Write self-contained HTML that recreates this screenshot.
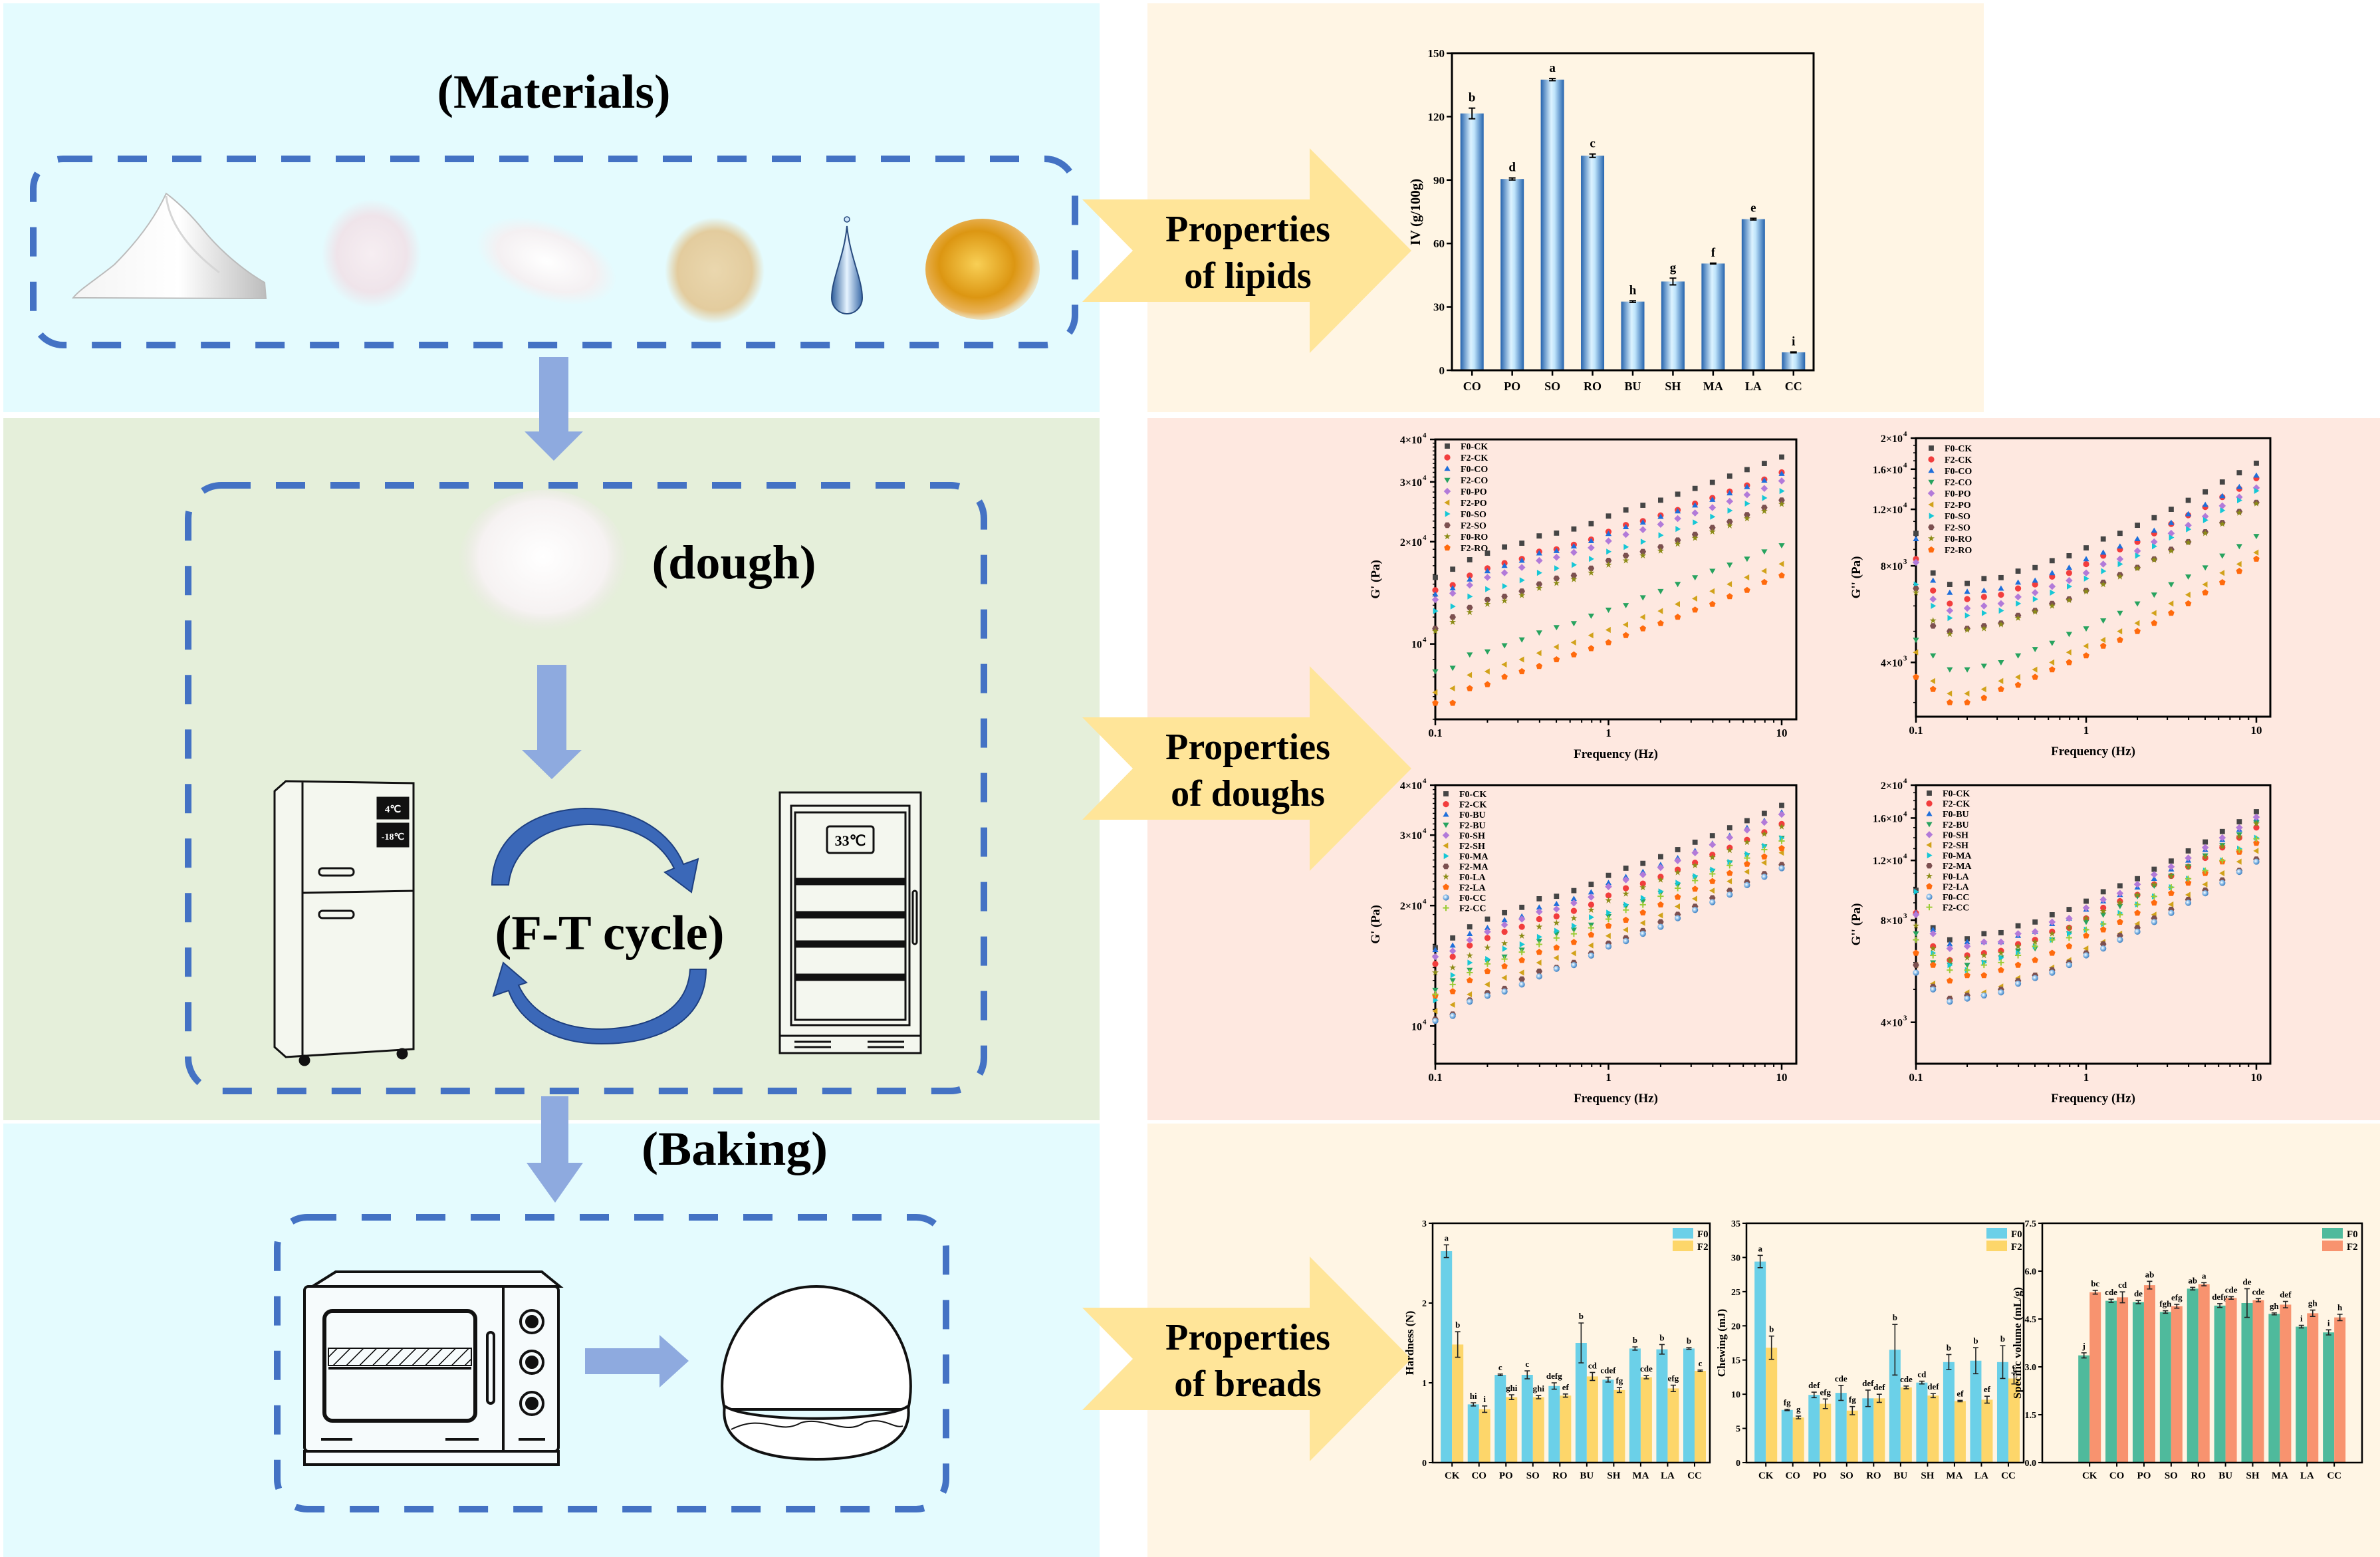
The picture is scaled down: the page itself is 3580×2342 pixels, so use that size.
<!DOCTYPE html>
<html><head><meta charset="utf-8"><title>Lipids, doughs and breads graphical abstract</title>
<style>
html,body{margin:0;padding:0;background:#fff;}
svg{display:block;}
text{font-family:"Liberation Serif",serif;font-weight:bold;fill:#000;}
</style></head>
<body>
<svg id="root" xmlns="http://www.w3.org/2000/svg" width="3580" height="2342" viewBox="0 0 3580 2342">
<defs>
<linearGradient id="ivGrad" x1="0" x2="1" y1="0" y2="0">
<stop offset="0" stop-color="#2563ad"/><stop offset="0.45" stop-color="#dcf3ff"/><stop offset="0.6" stop-color="#bfe4fb"/><stop offset="1" stop-color="#2563ad"/>
</linearGradient>
<radialGradient id="sphereGrad" cx="0.4" cy="0.4" r="0.6"><stop offset="0" stop-color="#ffffff"/><stop offset="0.5" stop-color="#8fc0ea"/><stop offset="1" stop-color="#3f7fc0"/></radialGradient>
<radialGradient id="oilGrad" cx="0.45" cy="0.45" r="0.6"><stop offset="0" stop-color="#f8cf55"/><stop offset="0.55" stop-color="#dc9612"/><stop offset="0.8" stop-color="#e9b35a"/><stop offset="1" stop-color="#f3e3c0" stop-opacity="0.3"/></radialGradient>
<radialGradient id="blobWhite" cx="0.5" cy="0.5" r="0.5"><stop offset="0" stop-color="#ffffff"/><stop offset="0.7" stop-color="#f4f0f2"/><stop offset="1" stop-color="#f4f0f2" stop-opacity="0"/></radialGradient>
<radialGradient id="blobPink" cx="0.5" cy="0.5" r="0.5"><stop offset="0" stop-color="#f6eef2"/><stop offset="0.7" stop-color="#efe4ea"/><stop offset="1" stop-color="#efe2e8" stop-opacity="0"/></radialGradient>
<radialGradient id="blobYeast" cx="0.5" cy="0.5" r="0.5"><stop offset="0" stop-color="#ead7ae"/><stop offset="0.75" stop-color="#e3cc9e"/><stop offset="1" stop-color="#e3cc9e" stop-opacity="0"/></radialGradient>
<radialGradient id="blobDough" cx="0.5" cy="0.45" r="0.5"><stop offset="0" stop-color="#ffffff"/><stop offset="0.75" stop-color="#f6f2f2"/><stop offset="1" stop-color="#ece6e6" stop-opacity="0"/></radialGradient>
<linearGradient id="flourGrad" x1="0" x2="1"><stop offset="0" stop-color="#f4f4f4"/><stop offset="0.55" stop-color="#ffffff"/><stop offset="1" stop-color="#bdbdbd"/></linearGradient>
<linearGradient id="dropGrad" x1="0" x2="1"><stop offset="0" stop-color="#2f5f9c"/><stop offset="0.5" stop-color="#e6f4ff"/><stop offset="1" stop-color="#3a6aa8"/></linearGradient>
<pattern id="hatch" width="14" height="14" patternUnits="userSpaceOnUse" patternTransform="rotate(45)"><line x1="0" y1="0" x2="0" y2="14" stroke="#000" stroke-width="3"/></pattern>
</defs>

<rect x="5" y="5" width="1649" height="615" fill="#e4fbfe"/>
<rect x="5" y="629" width="1649" height="1056" fill="#e5efda"/>
<rect x="5" y="1690" width="1649" height="652" fill="#e4fbfe"/>
<rect x="1726" y="5" width="1258" height="615" fill="#fff5e4"/>
<rect x="1726" y="629" width="1854" height="1056" fill="#fee8e0"/>
<rect x="1726" y="1690" width="1854" height="652" fill="#fff5e4"/>

<text x="833" y="162" font-size="72" text-anchor="middle" textLength="351" lengthAdjust="spacingAndGlyphs">(Materials)</text>
<rect x="50" y="239" width="1567" height="280" rx="45" fill="none" stroke="#4472c4" stroke-width="10" stroke-dasharray="44 38"/>
<g>
<path d="M250,291 C232,330 205,365 172,398 C145,420 120,435 110,448 L400,449 L398,425 C372,410 335,382 305,345 C283,318 262,300 250,291 Z" fill="url(#flourGrad)" stroke="#bbbbbb" stroke-width="2"/>
<path d="M250,295 C255,340 290,380 330,410" fill="none" stroke="#d6d6d6" stroke-width="3"/>
</g>
<ellipse cx="559" cy="382" rx="75" ry="82" fill="url(#blobPink)"/>
<ellipse cx="822" cy="393" rx="110" ry="58" fill="url(#blobWhite)" transform="rotate(20 822 393)"/>
<ellipse cx="1075" cy="407" rx="75" ry="80" fill="url(#blobYeast)"/>
<path d="M1274,340 C1270,385 1251,420 1251,448 A23,24 0 0 0 1297,448 C1297,420 1278,385 1274,340 Z" fill="url(#dropGrad)" stroke="#274a7e" stroke-width="2"/>
<circle cx="1274" cy="330" r="4" fill="#cfe6fa" stroke="#274a7e" stroke-width="1.5"/>
<ellipse cx="1478" cy="405" rx="86" ry="76" fill="url(#oilGrad)"/>

<path d="M811,537 H855 V649 H877 L833,693 L789,649 H811 Z" fill="#8eaadf"/>
<rect x="283" y="730" width="1197" height="911" rx="50" fill="none" stroke="#4472c4" stroke-width="10" stroke-dasharray="44 38"/>
<ellipse cx="817" cy="849" rx="128" ry="112" fill="url(#blobDough)"/>
<text x="1104" y="870" font-size="72" text-anchor="middle" textLength="247" lengthAdjust="spacingAndGlyphs">(dough)</text>
<path d="M808,1000 H852 V1128 H875 L830,1172 L785,1128 H808 Z" fill="#8eaadf"/>

<g fill="#f4f7ef" stroke="#111" stroke-width="3">
<path d="M413,1190 L430,1175 L622,1178 L622,1578 L430,1590 L413,1575 Z"/>
<line x1="455" y1="1177" x2="455" y2="1588"/>
<line x1="455" y1="1343" x2="622" y2="1340"/>
<rect x="568" y="1200" width="46" height="31" fill="#111"/>
<rect x="568" y="1239" width="46" height="34" fill="#111"/>
<rect x="480" y="1306" width="52" height="11" rx="5"/>
<rect x="480" y="1370" width="52" height="11" rx="5"/>
<circle cx="458" cy="1595" r="7" fill="#111"/><circle cx="605" cy="1585" r="7" fill="#111"/>
</g>
<text x="591" y="1222" font-size="15" style="fill:#fff" text-anchor="middle">4℃</text>
<text x="591" y="1263" font-size="14" style="fill:#fff" text-anchor="middle">-18℃</text>

<g fill="#3b68b8" stroke="#1e3f80" stroke-width="2">
<path d="M740,1331 C740,1260 800,1218 880,1216 C960,1216 1010,1255 1028,1300 L1050,1292 L1040,1342 L1000,1312 L1014,1306 C995,1268 955,1240 885,1240 C815,1242 770,1280 765,1331 Z"/>
<path d="M1062,1458 C1062,1530 1000,1570 905,1570 C830,1570 780,1535 765,1490 L742,1498 L757,1448 L792,1478 L780,1482 C800,1525 845,1548 905,1548 C985,1546 1035,1515 1038,1458 Z"/>
</g>
<text x="917" y="1428" font-size="74" text-anchor="middle" textLength="345" lengthAdjust="spacingAndGlyphs">(F-T cycle)</text>

<g fill="#f4f7ef" stroke="#111" stroke-width="3">
<rect x="1173" y="1192" width="212" height="378"/>
<rect x="1190" y="1212" width="178" height="330"/>
<rect x="1196" y="1222" width="166" height="312" fill="none"/>
<rect x="1244" y="1243" width="70" height="40" rx="4"/>
<rect x="1198" y="1322" width="162" height="8" fill="#111"/>
<rect x="1198" y="1372" width="162" height="8" fill="#111"/>
<rect x="1198" y="1416" width="162" height="8" fill="#111"/>
<rect x="1198" y="1466" width="162" height="8" fill="#111"/>
<rect x="1373" y="1340" width="6" height="80" rx="3"/>
<rect x="1173" y="1558" width="212" height="26"/>
<line x1="1195" y1="1567" x2="1250" y2="1567"/><line x1="1195" y1="1575" x2="1250" y2="1575"/>
<line x1="1305" y1="1567" x2="1360" y2="1567"/><line x1="1305" y1="1575" x2="1360" y2="1575"/>
</g>
<text x="1279" y="1272" font-size="22" text-anchor="middle">33℃</text>

<path d="M814,1649 H855 V1749 H877 L835,1809 L792,1749 H814 Z" fill="#8eaadf"/>
<text x="1105" y="1752" font-size="72" text-anchor="middle" textLength="280" lengthAdjust="spacingAndGlyphs">(Baking)</text>
<rect x="417" y="1831" width="1006" height="439" rx="45" fill="none" stroke="#4472c4" stroke-width="10" stroke-dasharray="44 38"/>

<g fill="#f6fbfc" stroke="#111" stroke-width="4">
<path d="M470,1935 L505,1913 L815,1913 L842,1935 Z"/>
<rect x="458" y="1935" width="382" height="248" rx="6"/>
<rect x="458" y="2183" width="382" height="20"/>
<line x1="757" y1="1935" x2="757" y2="2183"/>
<rect x="488" y="1972" width="227" height="165" rx="12" fill="#f6fbfc" stroke-width="6"/>
<rect x="494" y="2028" width="215" height="26" fill="url(#hatch)" stroke-width="2"/>
<line x1="494" y1="2058" x2="709" y2="2058"/>
<rect x="733" y="2004" width="10" height="107" rx="5"/>
<circle cx="800" cy="1988" r="17"/><circle cx="800" cy="1988" r="8" fill="#111"/>
<circle cx="800" cy="2049" r="17"/><circle cx="800" cy="2049" r="8" fill="#111"/>
<circle cx="800" cy="2111" r="17"/><circle cx="800" cy="2111" r="8" fill="#111"/>
<line x1="483" y1="2165" x2="530" y2="2165"/><line x1="670" y1="2165" x2="720" y2="2165"/><line x1="780" y1="2165" x2="820" y2="2165"/>
</g>
<path d="M880,2028 H992 V2008 L1036,2047 L992,2087 V2067 H880 Z" fill="#8eaadf"/>
<g fill="#ffffff" stroke="#111" stroke-width="4">
<path d="M1090,2120 C1070,2030 1130,1935 1228,1935 C1326,1935 1386,2030 1366,2120 Z"/>
<path d="M1090,2115 C1082,2175 1150,2195 1228,2195 C1306,2195 1374,2175 1366,2115 C1330,2140 1126,2140 1090,2115 Z"/>
<path d="M1100,2150 C1150,2125 1170,2160 1205,2140 C1240,2130 1270,2160 1300,2140 C1330,2130 1345,2150 1358,2145" fill="none" stroke-width="2"/>
</g>

<polygon points="1628,300 1970,300 1970,223 2123,377 1970,531 1970,454 1628,454 1704,377" fill="#ffe599"/>
<text x="1877" y="363" font-size="56" text-anchor="middle">Properties</text>
<text x="1877" y="433" font-size="56" text-anchor="middle">of lipids</text>
<polygon points="1628,1079 1970,1079 1970,1002 2123,1156 1970,1310 1970,1233 1628,1233 1704,1156" fill="#ffe599"/>
<text x="1877" y="1142" font-size="56" text-anchor="middle">Properties</text>
<text x="1877" y="1212" font-size="56" text-anchor="middle">of doughs</text>
<polygon points="1628,1967 1970,1967 1970,1890 2123,2044 1970,2198 1970,2121 1628,2121 1704,2044" fill="#ffe599"/>
<text x="1877" y="2030" font-size="56" text-anchor="middle">Properties</text>
<text x="1877" y="2100" font-size="56" text-anchor="middle">of breads</text>

<g id="charts"></g>
</svg>

<script>
const ivCategories = ['CO','PO','SO','RO','BU','SH','MA','LA','CC'];
const ivValues = [121.5, 90.5, 137.5, 101.5, 32.5, 42, 50.5, 71.5, 8.5];
const ivErrors = [2.5, 0.5, 0.5, 0.8, 0.4, 1.6, 0.2, 0.4, 0.2];
const ivLetters = ['b','d','a','c','h','g','f','e','i'];
const ivTicks = [0, 30, 60, 90, 120, 150];

const freqHz = [0.1,0.126,0.158,0.2,0.251,0.316,0.398,0.501,0.631,0.794,1,1.26,1.58,2,2.51,3.16,3.98,5.01,6.31,7.94,10];
const xMajorTicks = [0.1, 1, 10];
const xMinorTicks = [0.2,0.3,0.4,0.5,0.6,0.7,0.8,0.9,2,3,4,5,6,7,8,9];

const rheoTopNames = ['F0-CK','F2-CK','F0-CO','F2-CO','F0-PO','F2-PO','F0-SO','F2-SO','F0-RO','F2-RO'];
const gPrimeTop = [
 [15.7,16.6,17.7,18.5,19.3,19.8,20.8,21.2,21.8,22.6,23.8,24.8,25.6,26.5,27.6,28.7,29.9,31.2,32.6,34.0,35.5],
 [14.4,14.9,15.9,16.7,17.3,17.8,18.7,19.0,19.6,20.3,21.4,22.4,23.0,23.9,24.8,25.9,26.9,28.1,29.3,30.5,32.0],
 [14.0,14.6,15.5,16.4,17.0,17.6,18.5,18.8,19.4,20.1,21.1,22.1,22.8,23.7,24.6,25.6,26.6,27.8,29.0,30.3,31.7],
 [8.3,8.5,9.3,9.5,9.9,10.3,10.8,11.2,11.5,12.1,12.6,13.0,13.7,14.3,15.0,15.7,16.4,17.1,17.8,18.7,19.5],
 [13.5,14.1,14.9,15.7,16.2,16.8,17.6,18.0,18.6,19.2,20.1,21.0,21.7,22.5,23.4,24.3,25.2,26.3,27.5,28.7,30.2],
 [7.2,7.4,8.1,8.3,8.7,9.0,9.4,9.8,10.1,10.6,11.0,11.4,12.0,12.5,13.1,13.6,14.3,15.0,15.7,16.4,17.2],
 [12.5,12.9,13.8,14.5,14.8,15.4,16.2,16.7,17.1,17.8,18.7,19.3,20.0,20.9,21.8,22.8,23.7,24.7,25.9,26.9,28.2],
 [11.1,12.0,12.8,13.5,13.8,14.3,15.0,15.6,15.9,16.7,17.6,18.2,18.7,19.3,20.2,21.0,22.0,22.9,24.0,25.2,26.5],
 [10.9,11.6,12.4,13.1,13.4,13.9,14.6,15.1,15.5,16.2,17.1,17.6,18.2,18.8,19.7,20.5,21.4,22.3,23.4,24.6,25.8],
 [6.7,6.7,7.4,7.6,8.0,8.3,8.6,9.0,9.3,9.7,10.1,10.6,11.1,11.5,12.0,12.6,13.1,13.8,14.4,15.2,15.9]
];
const gDoubleTop = [
 [10.1,7.6,7.0,7.05,7.3,7.35,7.7,7.9,8.3,8.6,9.1,9.7,10.1,10.7,11.3,12.0,12.8,13.6,14.6,15.6,16.7],
 [8.4,6.7,6.1,6.3,6.4,6.5,6.8,7.0,7.4,7.6,8.1,8.6,9.0,9.5,10.1,10.8,11.5,12.2,13.1,13.9,15.0],
 [9.7,7.2,6.6,6.65,6.7,6.8,7.1,7.2,7.6,7.9,8.4,8.8,9.2,9.7,10.3,10.9,11.6,12.4,13.2,14.1,15.3],
 [4.7,4.2,3.8,3.8,3.9,4.0,4.2,4.4,4.6,4.9,5.1,5.4,5.7,6.1,6.5,7.0,7.4,7.9,8.6,9.2,9.9],
 [8.2,6.3,5.8,5.9,6.0,6.1,6.4,6.6,6.9,7.2,7.6,8.1,8.4,8.9,9.5,10.1,10.7,11.4,12.3,13.1,14.0],
 [4.3,3.5,3.2,3.2,3.3,3.5,3.6,3.8,4.0,4.3,4.5,4.7,5.0,5.3,5.7,6.1,6.5,7.0,7.6,8.1,8.8],
 [7.0,6.0,5.5,5.6,5.7,5.8,6.1,6.3,6.6,6.9,7.3,7.7,8.1,8.6,9.2,9.8,10.4,11.1,11.9,12.8,13.7],
 [6.8,5.2,5.0,5.1,5.2,5.3,5.6,5.8,6.1,6.3,6.7,7.1,7.5,7.9,8.4,9.0,9.5,10.2,10.9,11.8,12.6],
 [6.6,5.4,4.9,5.05,5.1,5.25,5.5,5.75,6.0,6.25,6.65,7.0,7.4,7.85,8.35,8.9,9.45,10.1,10.8,11.7,12.5],
 [3.6,3.3,3.0,3.0,3.1,3.3,3.4,3.6,3.8,4.0,4.2,4.5,4.7,5.0,5.3,5.7,6.1,6.6,7.1,7.7,8.4]
];
const rheoBottomNames = ['F0-CK','F2-CK','F0-BU','F2-BU','F0-SH','F2-SH','F0-MA','F2-MA','F0-LA','F2-LA','F0-CC','F2-CC'];
const gPrimeBottom = [
 [15.7,16.6,17.7,18.5,19.2,19.8,20.8,21.1,21.8,22.6,23.8,24.8,25.5,26.5,27.6,28.8,29.9,31.3,32.6,34.0,35.6],
 [14.3,14.9,15.9,16.6,17.2,17.7,18.5,18.8,19.4,20.1,21.2,22.1,22.7,23.6,24.6,25.6,26.8,27.9,29.2,30.5,32.0],
 [15.5,15.9,17.0,17.6,18.4,18.8,19.8,20.2,20.8,21.6,22.8,23.6,24.3,25.3,26.3,27.4,28.6,29.9,31.3,32.6,34.2],
 [12.3,13.0,13.8,14.5,14.9,15.5,16.3,17.0,17.4,17.9,18.8,19.9,20.5,21.5,22.5,23.5,24.4,25.6,26.7,28.1,29.5],
 [14.9,15.4,16.4,17.2,17.9,18.5,19.3,19.6,20.3,21.0,22.3,23.2,23.9,24.9,25.9,27.1,28.4,29.6,30.9,32.3,33.8],
 [10.9,11.3,12.0,12.7,13.2,13.6,14.4,14.8,15.2,15.9,16.8,17.4,18.1,18.9,19.9,20.8,21.8,23.0,24.3,25.6,27.1],
 [11.6,13.4,14.4,14.7,15.6,16.0,16.7,17.3,17.8,18.7,19.2,20.1,20.9,21.7,22.8,23.7,24.6,25.7,26.9,28.2,29.5],
 [10.4,10.7,11.6,12.1,12.4,13.1,13.7,14.0,14.4,15.2,16.1,16.6,17.3,18.2,19.0,19.9,20.9,21.8,22.9,24.0,25.3],
 [13.6,14.0,15.0,15.7,16.1,16.8,17.7,18.1,18.6,19.5,20.6,21.4,22.2,23.2,24.2,25.2,26.4,27.5,28.8,30.2,31.5],
 [11.9,12.2,13.0,13.7,14.1,14.6,15.3,15.7,16.2,16.9,17.8,18.4,19.2,20.1,21.0,22.0,23.0,24.1,25.4,26.5,27.8],
 [10.3,10.6,11.5,11.9,12.2,12.7,13.3,13.9,14.2,15.0,15.8,16.3,17.0,17.7,18.6,19.5,20.4,21.3,22.5,23.6,24.8],
 [12.0,12.7,13.6,14.3,14.7,15.3,16.0,16.6,17.0,17.6,18.5,19.5,20.1,21.1,22.1,23.1,24.0,25.2,26.3,27.6,29.0]
];
const gDoubleBottom = [
 [9.8,7.6,7.0,7.05,7.3,7.35,7.7,7.9,8.3,8.6,9.1,9.7,10.1,10.6,11.3,11.95,12.8,13.6,14.6,15.6,16.7],
 [8.4,6.7,6.1,6.3,6.4,6.5,6.8,7.0,7.4,7.6,8.1,8.7,9.1,9.5,10.2,10.8,11.5,12.2,13.1,14.0,15.0],
 [8.4,7.5,6.8,6.9,6.9,6.9,7.2,7.4,7.8,8.1,8.6,9.1,9.5,10.0,10.6,11.3,12.0,12.9,13.8,14.8,15.9],
 [7.3,6.0,5.9,5.9,6.0,6.2,6.5,6.6,7.0,7.3,7.9,8.3,8.8,9.4,10.1,10.8,11.5,12.4,13.3,14.3,15.5],
 [8.3,7.3,6.6,6.7,6.9,6.9,7.3,7.4,7.9,8.1,8.7,9.2,9.6,10.2,10.9,11.5,12.2,13.1,14.0,15.0,16.1],
 [5.9,5.2,4.7,4.9,4.9,5.1,5.4,5.5,5.8,6.1,6.6,6.9,7.3,7.8,8.3,8.9,9.5,10.2,11.0,11.9,12.8],
 [9.7,6.4,5.9,5.7,6.0,6.2,6.4,6.7,7.0,7.3,7.5,7.8,8.4,8.9,9.4,10.0,10.6,11.2,12.0,13.0,14.0],
 [5.9,5.1,4.7,4.8,4.8,5.0,5.3,5.5,5.7,6.0,6.4,6.8,7.2,7.6,8.1,8.6,9.2,9.8,10.5,11.2,12.1],
 [7.7,6.6,6.1,6.2,6.3,6.4,6.7,6.9,7.3,7.6,8.1,8.5,9.0,9.5,10.2,10.8,11.5,12.3,13.2,14.1,15.4],
 [6.4,5.9,5.3,5.5,5.5,5.7,5.9,6.1,6.4,6.7,7.2,7.5,7.9,8.4,9.0,9.6,10.3,11.0,11.9,12.7,13.5],
 [5.6,5.0,4.6,4.7,4.8,4.9,5.2,5.4,5.6,5.9,6.3,6.6,7.0,7.4,7.9,8.4,9.0,9.6,10.3,11.1,11.9],
 [7.0,6.3,5.7,5.7,5.9,6.0,6.3,6.7,7.0,7.1,7.5,7.8,8.3,8.9,9.4,10.0,10.6,11.2,12.0,12.9,13.9]
];
const gPrimeTickValues = [40, 30, 20, 10];
const gPrimeTickMant = ['4×10','3×10','2×10','10'];
const gPrimeTickExp = ['4','4','4','4'];
const gDoubleTickValues = [20, 16, 12, 8, 4];
const gDoubleTickMant = ['2×10','1.6×10','1.2×10','8×10','4×10'];
const gDoubleTickExp = ['4','4','4','3','3'];

const breadCategories = ['CK','CO','PO','SO','RO','BU','SH','MA','LA','CC'];
const hardnessF0 = [2.65,0.73,1.10,1.10,0.96,1.50,1.04,1.43,1.42,1.43];
const hardnessF2 = [1.48,0.67,0.82,0.82,0.84,1.08,0.91,1.07,0.93,1.15];
const hardnessErrF0 = [0.08,0.02,0.01,0.05,0.04,0.25,0.03,0.02,0.06,0.01];
const hardnessErrF2 = [0.16,0.04,0.03,0.02,0.02,0.05,0.03,0.02,0.04,0.01];
const hardnessLetF0 = ['a','hi','c','c','defg','b','cdef','b','b','b'];
const hardnessLetF2 = ['b','i','ghi','ghi','ef','cd','fg','cde','efg','c'];
const hardnessTicks = [0,1,2,3];
const chewingF0 = [29.4,7.7,9.9,10.2,9.4,16.5,11.7,14.7,14.9,14.7];
const chewingF2 = [16.8,6.6,8.6,7.6,9.4,11.0,9.8,9.0,9.2,12.3];
const chewingErrF0 = [0.9,0.1,0.4,1.1,1.2,3.7,0.2,1.1,1.9,2.4];
const chewingErrF2 = [1.7,0.2,0.7,0.6,0.6,0.2,0.3,0.1,0.5,0.8];
const chewingLetF0 = ['a','fg','def','cde','def','b','cd','b','b','b'];
const chewingLetF2 = ['b','g','efg','fg','def','cde','def','ef','ef','c'];
const chewingTicks = [0,5,10,15,20,25,30,35];
const volumeF0 = [3.36,5.07,5.03,4.72,5.45,4.92,5.0,4.66,4.26,4.08];
const volumeF2 = [5.34,5.18,5.56,4.90,5.59,5.16,5.09,4.95,4.68,4.55];
const volumeErrF0 = [0.08,0.05,0.05,0.04,0.04,0.06,0.45,0.03,0.04,0.08];
const volumeErrF2 = [0.06,0.17,0.12,0.06,0.05,0.04,0.05,0.10,0.10,0.10];
const volumeLetF0 = ['j','cde','de','fgh','ab','defg','de','gh','i','i'];
const volumeLetF2 = ['bc','cd','ab','efg','a','cde','cde','def','gh','h'];
const volumeTicks = [0,1.5,3.0,4.5,6.0,7.5];

const NS = 'http://www.w3.org/2000/svg';
const layer = document.getElementById('charts');
function mk(tag, attrs, parent) {
  const e = document.createElementNS(NS, tag);
  for (const k in attrs) e.setAttribute(k, attrs[k]);
  (parent || layer).appendChild(e);
  return e;
}
function txt(parent, x, y, s, size, anchor) {
  const t = mk('text', {x: x, y: y, 'font-size': size, 'text-anchor': anchor || 'middle'}, parent);
  t.textContent = s;
  return t;
}

(function () {
  const L = 2184, R = 2728, T = 80, B = 557;
  const g = mk('g', {});
  
  
  const band = (R - L) / ivCategories.length;
  const xC = i => L + band * (i + 0.5);
  const yV = v => B - v / 150 * (B - T);
  ivCategories.forEach((c, i) => {
    const bw = 35;
    const bar = mk('rect', {x: xC(i) - bw / 2, y: yV(ivValues[i]), width: bw, height: B - yV(ivValues[i]), fill: 'url(#ivGrad)'}, g);
    
    
    const e1 = yV(ivValues[i] + ivErrors[i]), e2 = yV(ivValues[i] - ivErrors[i]);
    const eb = mk('path', {d: `M${xC(i)},${e1}V${e2}M${xC(i)-5},${e1}H${xC(i)+5}M${xC(i)-5},${e2}H${xC(i)+5}`, stroke: '#000', 'stroke-width': 2, fill: 'none'}, g);
    
    
    const lt = txt(g, xC(i), e1 - 10, ivLetters[i], 19);
    
    
    const tk = mk('line', {x1: xC(i), x2: xC(i), y1: B, y2: B + 8, stroke: '#000', 'stroke-width': 2.5}, g);
    
    
    const xl = txt(g, xC(i), B + 30, c, 18);
    
    
  });
  const frame = mk('path', {d: `M${L},${T}H${R}V${B}H${L}Z`, fill: 'none', stroke: '#000', 'stroke-width': 3}, g);
  
  
  ivTicks.forEach(v => {
    const tk = mk('line', {x1: L - 8, x2: L, y1: yV(v), y2: yV(v), stroke: '#000', 'stroke-width': 2.5}, g);
    
    
    const tl = txt(g, L - 11, yV(v) + 6, String(v), 17, 'end');
    
    
  });
  const yt = txt(g, 0, 0, 'IV (g/100g)', 21);
  yt.setAttribute('transform', 'translate(2136,319) rotate(-90)');
  
  
})();

const markerShapes = ['square','circle','triUp','triDown','diamond','triLeft','triRight','hexagon','star','pentagon','sphere','plus'];
const markerColors = ['#454545','#f23d3d','#1e6fdb','#27a35f','#b27ad9','#d1a21a','#16c7d6','#7c5050','#8c8c16','#ff6a0d','#5a9ad8','#9ccc36'];
function poly(cx, cy, r, n, rot) {
  const p = [];
  for (let k = 0; k < n; k++) { const a = rot + k * 2 * Math.PI / n; p.push((cx + r * Math.cos(a)).toFixed(1) + ',' + (cy + r * Math.sin(a)).toFixed(1)); }
  return p.join(' ');
}
function marker(parent, shape, x, y, s, color) {
  let e;
  if (shape === 'square') e = mk('rect', {x: x - s * 0.85, y: y - s * 0.85, width: s * 1.7, height: s * 1.7, fill: color}, parent);
  else if (shape === 'circle') e = mk('circle', {cx: x, cy: y, r: s, fill: color}, parent);
  else if (shape === 'sphere') e = mk('circle', {cx: x, cy: y, r: s, fill: 'url(#sphereGrad)'}, parent);
  else if (shape === 'triUp') e = mk('polygon', {points: poly(x, y + s * 0.15, s * 1.15, 3, -Math.PI / 2), fill: color}, parent);
  else if (shape === 'triDown') e = mk('polygon', {points: poly(x, y - s * 0.15, s * 1.15, 3, Math.PI / 2), fill: color}, parent);
  else if (shape === 'triLeft') e = mk('polygon', {points: poly(x + s * 0.15, y, s * 1.15, 3, Math.PI), fill: color}, parent);
  else if (shape === 'triRight') e = mk('polygon', {points: poly(x - s * 0.15, y, s * 1.15, 3, 0), fill: color}, parent);
  else if (shape === 'diamond') e = mk('polygon', {points: poly(x, y, s * 1.15, 4, 0), fill: color}, parent);
  else if (shape === 'hexagon') e = mk('polygon', {points: poly(x, y, s * 1.05, 6, 0), fill: color}, parent);
  else if (shape === 'pentagon') e = mk('polygon', {points: poly(x, y, s * 1.1, 5, -Math.PI / 2), fill: color}, parent);
  else if (shape === 'star') {
    const p = [];
    for (let k = 0; k < 10; k++) { const r = k % 2 ? s * 0.45 : s * 1.15; const a = -Math.PI / 2 + k * Math.PI / 5; p.push((x + r * Math.cos(a)).toFixed(1) + ',' + (y + r * Math.sin(a)).toFixed(1)); }
    e = mk('polygon', {points: p.join(' '), fill: color}, parent);
  } else e = mk('path', {d: `M${x - s},${y}H${x + s}M${x},${y - s}V${y + s}`, stroke: color, 'stroke-width': 2}, parent);
  return e;
}

function drawRheo(id, geo, names, values, tickVals, tickMant, tickExp, yTitle, legend) {
  const g = mk('g', {});
  
  
  const lx = f => geo.L + (Math.log10(f) + 1) / 2 * (geo.X10 - geo.L);
  const ly = v => geo.B - (Math.log10(v) - Math.log10(geo.ymin)) / (Math.log10(geo.ymax) - Math.log10(geo.ymin)) * (geo.B - geo.T);
  const frame = mk('path', {d: `M${geo.L},${geo.T}H${geo.R}V${geo.B}H${geo.L}Z`, fill: 'none', stroke: '#000', 'stroke-width': 3}, g);
  
  
  xMajorTicks.forEach(f => {
    const t = mk('line', {x1: lx(f), x2: lx(f), y1: geo.B, y2: geo.B + 9, stroke: '#000', 'stroke-width': 2.5}, g);
    
    
    const l = txt(g, lx(f), geo.B + 26, String(f), 17);
    
    
  });
  xMinorTicks.forEach(f => {
    const t = mk('line', {x1: lx(f), x2: lx(f), y1: geo.B, y2: geo.B + 5, stroke: '#000', 'stroke-width': 2}, g);
    
    
  });
  for (let v = Math.ceil(geo.ymin); v < geo.ymax; v += 1) {
    const t = mk('line', {x1: geo.L - 4, x2: geo.L, y1: ly(v), y2: ly(v), stroke: '#000', 'stroke-width': 1.5}, g);
    
    
  }
  tickVals.forEach((v, i) => {
    const t = mk('line', {x1: geo.L - 8, x2: geo.L, y1: ly(v), y2: ly(v), stroke: '#000', 'stroke-width': 2.5}, g);
    
    
    const l = txt(g, geo.L - 20, ly(v) + 6, tickMant[i], 16, 'end');
    
    
    const ex = txt(g, geo.L - 19, ly(v) - 3, tickExp[i], 11, 'start');
    
    
  });
  const xt = txt(g, (geo.L + geo.R) / 2, geo.B + 58, 'Frequency (Hz)', 19);
  
  
  const yt = txt(g, 0, 0, yTitle, 19);
  yt.setAttribute('transform', `translate(${geo.L - 84},${(geo.T + geo.B) / 2}) rotate(-90)`);
  
  
  values.forEach((series, si) => {
    const sg = mk('g', {}, g);
    
    
    series.forEach((v, pi) => {
      const m = marker(sg, markerShapes[si], lx(freqHz[pi]), ly(v), 4.6, markerColors[si]);
      
      
    });
  });
  names.forEach((n, si) => {
    const yy = legend.y + si * legend.dy;
    const m = marker(g, markerShapes[si], legend.x, yy, 4.6, markerColors[si]);
    
    
    const l = txt(g, legend.x + 20, yy + 5, n, 14, 'start');
    
    
  });
}
drawRheo('storage-modulus-chart-oils', {L: 2159, R: 2702, X10: 2680, T: 661, B: 1082, ymin: 6.0, ymax: 40}, rheoTopNames, gPrimeTop, gPrimeTickValues, gPrimeTickMant, gPrimeTickExp, "G' (Pa)", {x: 2177, y: 671, dy: 17});
drawRheo('loss-modulus-chart-oils', {L: 2882, R: 3415, X10: 3394, T: 659, B: 1078, ymin: 2.71, ymax: 20}, rheoTopNames, gDoubleTop, gDoubleTickValues, gDoubleTickMant, gDoubleTickExp, "G'' (Pa)", {x: 2905, y: 674, dy: 17});
drawRheo('storage-modulus-chart-fats', {L: 2159, R: 2702, X10: 2680, T: 1181, B: 1600, ymin: 8.05, ymax: 40}, rheoBottomNames, gPrimeBottom, gPrimeTickValues, gPrimeTickMant, gPrimeTickExp, "G' (Pa)", {x: 2175, y: 1194, dy: 15.6});
drawRheo('loss-modulus-chart-fats', {L: 2882, R: 3415, X10: 3394, T: 1181, B: 1600, ymin: 3.02, ymax: 20}, rheoBottomNames, gDoubleBottom, gDoubleTickValues, gDoubleTickMant, gDoubleTickExp, "G'' (Pa)", {x: 2902, y: 1193, dy: 15.6});

function drawBread(id, geo, v0, v2, e0, e2, l0, l2, ticks, tickFmt, yTitle, c0, c2) {
  const g = mk('g', {});
  
  
  const W = geo.R - geo.L;
  const xC = i => geo.L + W * (geo.f0 + i * geo.step);
  const yV = v => geo.B - v / geo.ymax * (geo.B - geo.T);
  const bw = 17;
  breadCategories.forEach((c, i) => {
    [[v0, e0, l0, c0, -bw, 'f0'], [v2, e2, l2, c2, 0, 'f2']].forEach(s => {
      const v = s[0][i];
      const x = xC(i) + s[4];
      const bar = mk('rect', {x: x, y: yV(v), width: bw, height: geo.B - yV(v), fill: s[3]}, g);
      
      
      const cx = x + bw / 2, a = yV(v + s[1][i]), b = yV(v - s[1][i]);
      const eb = mk('path', {d: `M${cx},${a}V${b}M${cx-4},${a}H${cx+4}M${cx-4},${b}H${cx+4}`, stroke: '#222', 'stroke-width': 1.6, fill: 'none'}, g);
      
      
      const lt = txt(g, cx, a - 6, s[2][i], 13);
      
      
    });
    const tk = mk('line', {x1: xC(i), x2: xC(i), y1: geo.B, y2: geo.B + 6, stroke: '#000', 'stroke-width': 2}, g);
    
    
    const xl = txt(g, xC(i), geo.B + 24, c, 15);
    
    
  });
  const frame = mk('path', {d: `M${geo.L},${geo.T}H${geo.R}V${geo.B}H${geo.L}Z`, fill: 'none', stroke: '#000', 'stroke-width': 2.5}, g);
  
  
  ticks.forEach(v => {
    const t = mk('line', {x1: geo.L - 6, x2: geo.L, y1: yV(v), y2: yV(v), stroke: '#000', 'stroke-width': 2}, g);
    
    
    const l = txt(g, geo.L - 9, yV(v) + 5, tickFmt(v), 14, 'end');
    
    
  });
  const yt = txt(g, 0, 0, yTitle, 17);
  yt.setAttribute('transform', `translate(${geo.titleX},${(geo.T + geo.B) / 2}) rotate(-90)`);
  
  
  [['F0', c0, 1847], ['F2', c2, 1866]].forEach(s => {
    const r = mk('rect', {x: geo.legX, y: s[2], width: 31, height: 16, fill: s[1]}, g);
    
    
    const l = txt(g, geo.legX + 37, s[2] + 14, s[0], 15, 'start');
    
    
  });
}
drawBread('hardness-chart', {L: 2155, R: 2572, T: 1840, B: 2200, ymax: 3, f0: 0.07, step: 0.0972, titleX: 2126, legX: 2516}, hardnessF0, hardnessF2, hardnessErrF0, hardnessErrF2, hardnessLetF0, hardnessLetF2, hardnessTicks, v => String(v), 'Hardness (N)', '#6bd0e8', '#fdd66a');
drawBread('chewing-chart', {L: 2627, R: 3044, T: 1840, B: 2200, ymax: 35, f0: 0.07, step: 0.0972, titleX: 2595, legX: 2988}, chewingF0, chewingF2, chewingErrF0, chewingErrF2, chewingLetF0, chewingLetF2, chewingTicks, v => String(v), 'Chewing (mJ)', '#6bd0e8', '#fdd66a');
drawBread('specific-volume-chart', {L: 3072, R: 3553, T: 1840, B: 2200, ymax: 7.5, f0: 0.148, step: 0.085, titleX: 3040, legX: 3493}, volumeF0, volumeF2, volumeErrF0, volumeErrF2, volumeLetF0, volumeLetF2, volumeTicks, v => v.toFixed(1), 'Specific volume (mL/g)', '#4fba9c', '#f8936f');
</script>
</body></html>
